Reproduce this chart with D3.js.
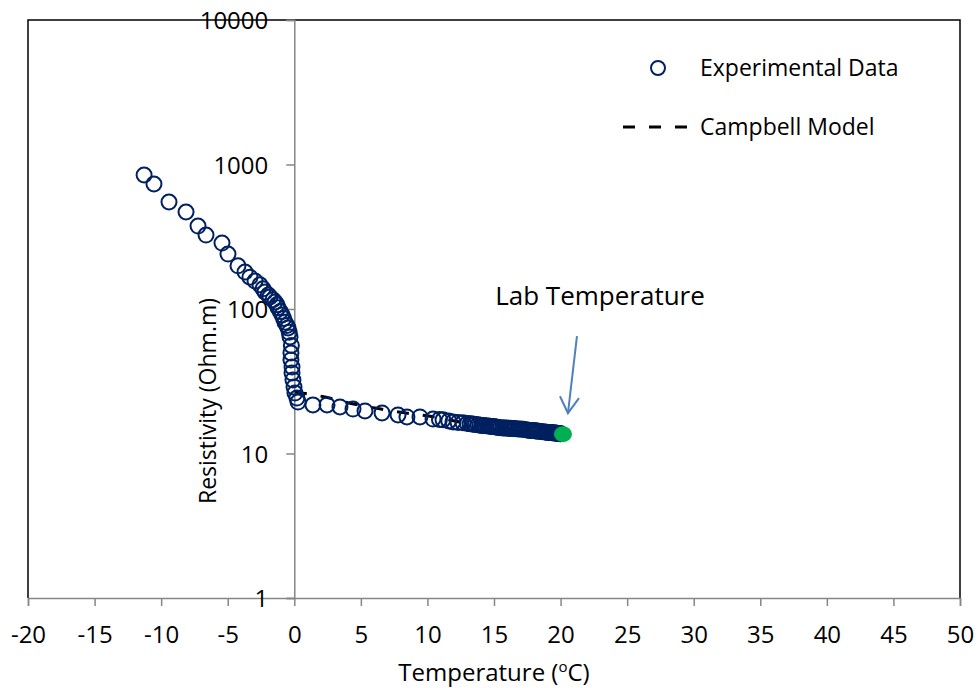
<!DOCTYPE html>
<html>
<head>
<meta charset="utf-8">
<script src="https://cdn.jsdelivr.net/npm/d3@7"></script>
<style>
  html, body { margin: 0; padding: 0; background: #fff; }
  svg { display: block; }
  text { font-family: "Open Sans", "Noto Sans", sans-serif; fill: #000; }
</style>
</head>
<body>
<svg id="chart" width="979" height="688"></svg>
<script>
// ---- Data ----
const expTemp = [
  -11.28, -10.54, -9.41, -8.13, -7.23, -6.63, -5.43, -4.98, -4.23, -3.70,
  -3.33, -2.95, -2.58, -2.35, -2.20, -1.95, -1.83, -1.60, -1.45, -1.30,
  -1.22, -1.05, -0.92, -0.80, -0.70, -0.55, -0.47, -0.38,
  -0.32, -0.22, -0.25, -0.25, -0.17, -0.17, -0.10, -0.02, 0.05, 0.20, 0.28,
  1.40, 2.46, 3.43, 4.41, 5.31, 6.59, 7.79, 8.46, 9.44, 10.42, 10.90,
  11.17, 11.60, 11.92, 12.30, 12.67, 13.00, 13.20, 13.35, 13.50, 13.60, 13.80, 13.95, 14.10, 14.20,
  14.35, 14.55, 14.70, 14.80, 14.95, 15.08, 15.20, 15.35, 15.50, 15.68, 15.80, 15.95, 16.10, 16.25, 16.35,
  16.50, 16.60, 16.80, 16.95, 17.10, 17.20, 17.40, 17.56, 17.70, 17.80, 17.95, 18.05, 18.15,
  18.23, 18.35, 18.50, 18.65, 18.83, 18.95, 19.05, 19.15, 19.25, 19.35, 19.43, 19.50, 19.60,
  19.68, 19.75, 19.82, 19.90, 19.96, 20.00
];
const expResist = [
  846, 733, 550, 469, 375, 325, 286, 240, 199, 180,
  166, 156, 147, 138, 131, 125, 121, 116, 112, 107,
  102, 96, 91, 86, 81, 77, 74, 69,
  64, 56, 49.6, 44.4, 39.7, 36.1, 32.3, 28.8, 26.2, 24.2, 22.7,
  21.7, 21.7, 21.0, 20.3, 19.7, 19.1, 18.5, 17.9, 17.9, 17.3, 17.2,
  17.1, 16.8, 16.5, 16.4, 16.3, 16.1, 16.05, 16.0, 15.95, 15.9, 15.8, 15.7, 15.65, 15.6,
  15.55, 15.5, 15.45, 15.4, 15.35, 15.3, 15.2, 15.15, 15.1, 15.0, 15.0, 15.0, 14.95, 14.95, 14.9,
  14.9, 14.85, 14.8, 14.8, 14.7, 14.7, 14.6, 14.5, 14.45, 14.45, 14.4, 14.35, 14.3,
  14.3, 14.25, 14.2, 14.15, 14.1, 14.05, 14.0, 13.98, 13.95, 13.92, 13.9, 13.88, 13.85,
  13.82, 13.8, 13.78, 13.75, 13.72, 13.7
];
const labTemp = [20.18];
const labResist = [13.6];

const modelTemp = [0.05, 2.30, 4.18, 6.51, 8.32, 10.49, 12.45, 14.85, 16.43, 18.46, 20.10];
const modelResist = [26.7, 24.6, 22.3, 20.3, 19.1, 17.9, 16.5, 15.3, 14.8, 14.1, 13.6];

const xTicks = [-20, -15, -10, -5, 0, 5, 10, 15, 20, 25, 30, 35, 40, 45, 50];
const yTicks = [1, 10, 100, 1000, 10000];
const xTitle = "Temperature (";
const yTitle = "Resistivity (Ohm.m)";
const legendLabels = ["Experimental Data", "Campbell Model"];
const annotation = "Lab Temperature";

// ---- Layout ----
const L = 28, R = 960, T = 20, B = 598;
const navy = "#002060", green = "#00b050", axisGray = "#868686", arrowBlue = "#4f81bd";

const svg = d3.select("#chart");
const x = d3.scaleLinear().domain([-20, 50]).range([L, R]);
const y = d3.scaleLog().domain([1, 10000]).range([B, T]);

// plot border (black)
svg.append("path")
  .attr("d", `M${L},${B}V${T}H${R}V${B}`)
  .attr("fill", "none").attr("stroke", "#000").attr("stroke-width", 1.5);

// x axis
const xAxis = svg.append("g").attr("transform", `translate(0,${B})`)
  .call(d3.axisBottom(x).tickValues(xTicks).tickSize(8).tickFormat(d3.format("d")));
xAxis.select(".domain").attr("stroke", axisGray).attr("stroke-width", 1.5);
xAxis.selectAll(".tick line").attr("stroke", axisGray).attr("stroke-width", 1.5);
xAxis.selectAll(".tick text")
  .attr("y", 45).attr("dy", 0)
  .style("font-size", "24px").style("font-family", "'Open Sans', sans-serif")
  .attr("fill", "#000")
  .text(d => d < 0 ? "-" + Math.abs(d) : d);

// y axis at x = 0
const yAxis = svg.append("g").attr("transform", `translate(${x(0)},0)`)
  .call(d3.axisLeft(y).tickValues(yTicks).tickSize(8).tickPadding(18).tickFormat(d3.format("d")));
yAxis.select(".domain").attr("stroke", axisGray).attr("stroke-width", 1.5);
yAxis.selectAll(".tick line").attr("stroke", axisGray).attr("stroke-width", 1.5);
yAxis.selectAll(".tick text")
  .attr("dy", "0.36em")
  .style("font-size", "24px").style("font-family", "'Open Sans', sans-serif")
  .attr("fill", "#000");

// model line (dashed)
const modelData = modelTemp.map((t, i) => [t, modelResist[i]]);
svg.append("path")
  .datum(modelData)
  .attr("d", d3.line().x(d => x(d[0])).y(d => y(d[1])).curve(d3.curveMonotoneX))
  .attr("fill", "none").attr("stroke", "#000").attr("stroke-width", 3)
  .attr("stroke-dasharray", "12,14");

// experimental points
const expData = expTemp.map((t, i) => [t, expResist[i]]);
svg.append("g").selectAll("circle").data(expData).join("circle")
  .attr("cx", d => x(d[0])).attr("cy", d => y(d[1])).attr("r", 7.5)
  .attr("fill", "none").attr("stroke", navy).attr("stroke-width", 2);

// lab temperature point
svg.append("g").selectAll("ellipse").data(labTemp.map((t, i) => [t, labResist[i]])).join("ellipse")
  .attr("cx", d => x(d[0])).attr("cy", d => y(d[1])).attr("rx", 9).attr("ry", 8)
  .attr("fill", green);

// annotation + arrow
const labX = x(labTemp[0]), labY = y(labResist[0]);
svg.append("text").attr("x", 600).attr("y", 305).attr("text-anchor", "middle")
  .style("font-size", "26px").text(annotation);
const tipX = labX + 5, tipY = labY - 21;
svg.append("line").attr("x1", tipX + 9).attr("y1", tipY - 77).attr("x2", tipX).attr("y2", tipY)
  .attr("stroke", arrowBlue).attr("stroke-width", 2);
svg.append("path")
  .attr("d", `M${tipX - 8},${tipY - 17}L${tipX},${tipY}L${tipX + 11},${tipY - 15}`)
  .attr("fill", "none").attr("stroke", arrowBlue).attr("stroke-width", 2);

// axis titles
const xt = svg.append("text").attr("x", 494).attr("y", 681).attr("text-anchor", "middle")
  .style("font-size", "24px");
xt.append("tspan").text(xTitle);
xt.append("tspan").attr("dy", -9).style("font-size", "15px").text("o");
xt.append("tspan").attr("dy", 9).text("C)");

svg.append("text")
  .attr("transform", `translate(216,401) rotate(-90)`)
  .attr("text-anchor", "middle").style("font-size", "23px").text(yTitle);

// legend
const lg = svg.append("g");
lg.append("circle").attr("cx", 658).attr("cy", 68).attr("r", 7)
  .attr("fill", "none").attr("stroke", navy).attr("stroke-width", 2);
lg.append("text").attr("x", 700).attr("y", 76).style("font-size", "23px").text(legendLabels[0]);
lg.append("line").attr("x1", 623).attr("x2", 691).attr("y1", 127).attr("y2", 127)
  .attr("stroke", "#000").attr("stroke-width", 3).attr("stroke-dasharray", "12,14");
lg.append("text").attr("x", 700).attr("y", 135).style("font-size", "23px").text(legendLabels[1]);
</script>
</body>
</html>
